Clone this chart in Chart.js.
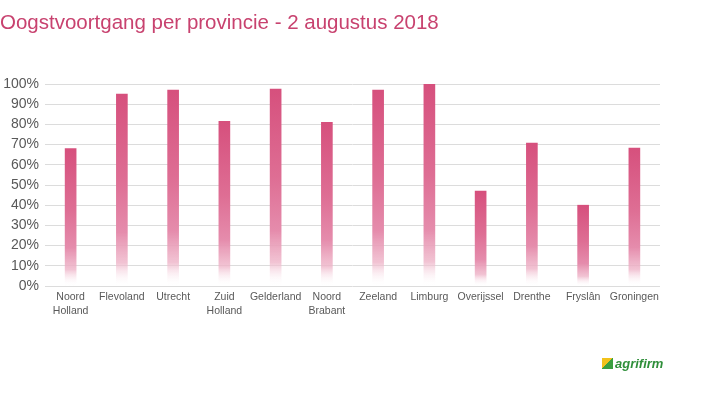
<!DOCTYPE html>
<html>
<head>
<meta charset="utf-8">
<script src="https://cdn.jsdelivr.net/npm/chart.js@4"></script>
<style>
    html, body { margin: 0; padding: 0; background: #fff; }
    #wrap { position: relative; width: 707px; height: 394px; }
    #logo {
        position: absolute; left: 602px; top: 356px;
        font-family: "Liberation Sans", Arial, sans-serif;
        font-weight: bold; font-style: italic; font-size: 13px; color: #2f8f3a;
    }
    #logo .mark {
        display: inline-block; width: 11px; height: 11px; margin-right: 2px;
        background: linear-gradient(135deg, #f2c21b 50%, #3aa040 50%);
        vertical-align: -1px;
    }
</style>
</head>
<body>
<div id="wrap">
    <canvas id="myChart" width="707" height="394"></canvas>
    <div id="logo"><span class="mark"></span>agrifirm</div>
</div>
<script>
// provinces and harvest progress (%)
const provinces = [
    ["Noord", "Holland"],
    "Flevoland",
    "Utrecht",
    ["Zuid", "Holland"],
    "Gelderland",
    ["Noord", "Brabant"],
    "Zeeland",
    "Limburg",
    "Overijssel",
    "Drenthe",
    "Fryslân",
    "Groningen",
];
const progress = [68, 95, 97, 81.5, 97.5, 81, 97, 100, 47, 70.8, 40, 68.3];

// fade each bar from pink at its top to white at the base
function barGradient(context) {
    const chart = context.chart;
    const yScale = chart.scales.y;
    if (!yScale || !chart.chartArea) return "#d6517c";
    const value = progress[context.dataIndex];
    const top = yScale.getPixelForValue(value);
    const bottom = yScale.getPixelForValue(0);
    const g = chart.ctx.createLinearGradient(0, top, 0, bottom);
    g.addColorStop(0, "rgba(214, 80, 125, 1)");
    g.addColorStop(0.45, "rgba(222, 110, 148, 1)");
    g.addColorStop(0.72, "rgba(229, 140, 172, 1)");
    g.addColorStop(0.88, "rgba(238, 180, 200, 0.8)");
    g.addColorStop(1, "rgba(255, 255, 255, 0)");
    return g;
}

new Chart(document.getElementById("myChart"), {
    type: "bar",
    data: {
        labels: provinces,
        datasets: [
            {
                label: "Oogstvoortgang",
                data: progress,
                backgroundColor: barGradient,
                borderWidth: 0,
                barThickness: 11,
            },
        ],
    },
    options: {
        responsive: false,
        animation: false,
        layout: { padding: { left: 0, right: 47, top: 0, bottom: 0 } },
        plugins: {
            legend: { display: false },
            tooltip: { enabled: false },
            title: {
                display: true,
                text: "Oogstvoortgang per provincie - 2 augustus 2018",
                align: "start",
                color: "#c8426f",
                font: { family: "Liberation Sans, Arial, sans-serif", size: 20.5, weight: "normal" },
                padding: { top: 11, bottom: 48.4 },
            },
        },
        scales: {
            y: {
                min: 0,
                max: 100,
                ticks: {
                    stepSize: 10,
                    color: "#595959",
                    font: { family: "Liberation Sans, Arial, sans-serif", size: 14 },
                    padding: 6,
                    callback: (v) => v + "%",
                },
                grid: { color: "#dcdcdc", drawTicks: false },
                border: { display: false },
                afterFit: (scale) => { scale.width = 45; },
            },
            x: {
                ticks: {
                    color: "#595959",
                    font: { family: "Liberation Sans, Arial, sans-serif", size: 10.5, lineHeight: 1.33 },
                    maxRotation: 0,
                    autoSkip: false,
                    padding: 0,
                },
                grid: { display: false, tickLength: 4 },
                border: { display: false },
                afterFit: (scale) => { scale.height = 108; },
            },
        },
    },
});
</script>
</body>
</html>
